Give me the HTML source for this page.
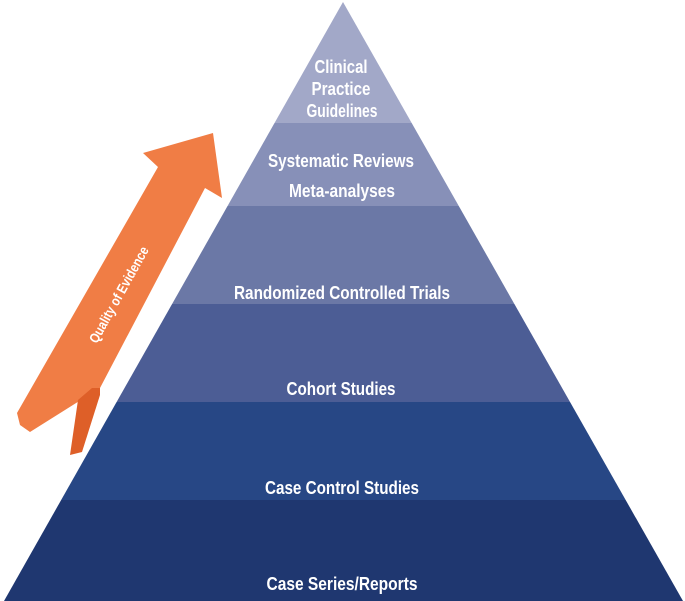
<!DOCTYPE html>
<html><head><style>html,body{margin:0;padding:0;background:#fff}svg{display:block}</style></head>
<body>
<svg width="685" height="601" viewBox="0 0 685 601" xmlns="http://www.w3.org/2000/svg">
<defs><clipPath id="p"><polygon points="343,2 4,601 683,601"/></clipPath></defs>
<g clip-path="url(#p)">
<rect x="0" y="0" width="685" height="123" fill="#a2a8c8"/>
<rect x="0" y="123" width="685" height="83" fill="#8790b8"/>
<rect x="0" y="206" width="685" height="98" fill="#6b78a6"/>
<rect x="0" y="304" width="685" height="98" fill="#4c5d95"/>
<rect x="0" y="402" width="685" height="98" fill="#274785"/>
<rect x="0" y="500" width="685" height="101" fill="#1f3770"/>
</g>
<polygon points="17,413 158,167 143,153 213,133 222,198 205,188 100,388 30,432 20,425" fill="#f07d45"/>
<polygon points="92,388 100,388 100,395 82,452 70,455 78,400" fill="#de5f28"/>
<g fill="#fff" font-family="Liberation Sans, sans-serif" font-weight="bold" font-size="18" text-anchor="middle" lengthAdjust="spacingAndGlyphs">
<text x="341" y="73" textLength="53" lengthAdjust="spacingAndGlyphs">Clinical</text>
<text x="341" y="95" textLength="59" lengthAdjust="spacingAndGlyphs">Practice</text>
<text x="342" y="117" textLength="71" lengthAdjust="spacingAndGlyphs">Guidelines</text>
<text x="341" y="167" textLength="146" lengthAdjust="spacingAndGlyphs">Systematic Reviews</text>
<text x="342" y="197" textLength="106" lengthAdjust="spacingAndGlyphs">Meta-analyses</text>
<text x="342" y="299" textLength="216" lengthAdjust="spacingAndGlyphs">Randomized Controlled Trials</text>
<text x="341" y="395" textLength="109" lengthAdjust="spacingAndGlyphs">Cohort Studies</text>
<text x="342" y="494" textLength="154" lengthAdjust="spacingAndGlyphs">Case Control Studies</text>
<text x="342" y="590" textLength="151" lengthAdjust="spacingAndGlyphs">Case Series/Reports</text>
<text x="0" y="0" font-size="14" textLength="108" lengthAdjust="spacingAndGlyphs" transform="translate(123,297) rotate(-61)">Quality of Evidence</text>
</g>
</svg>
</body></html>
